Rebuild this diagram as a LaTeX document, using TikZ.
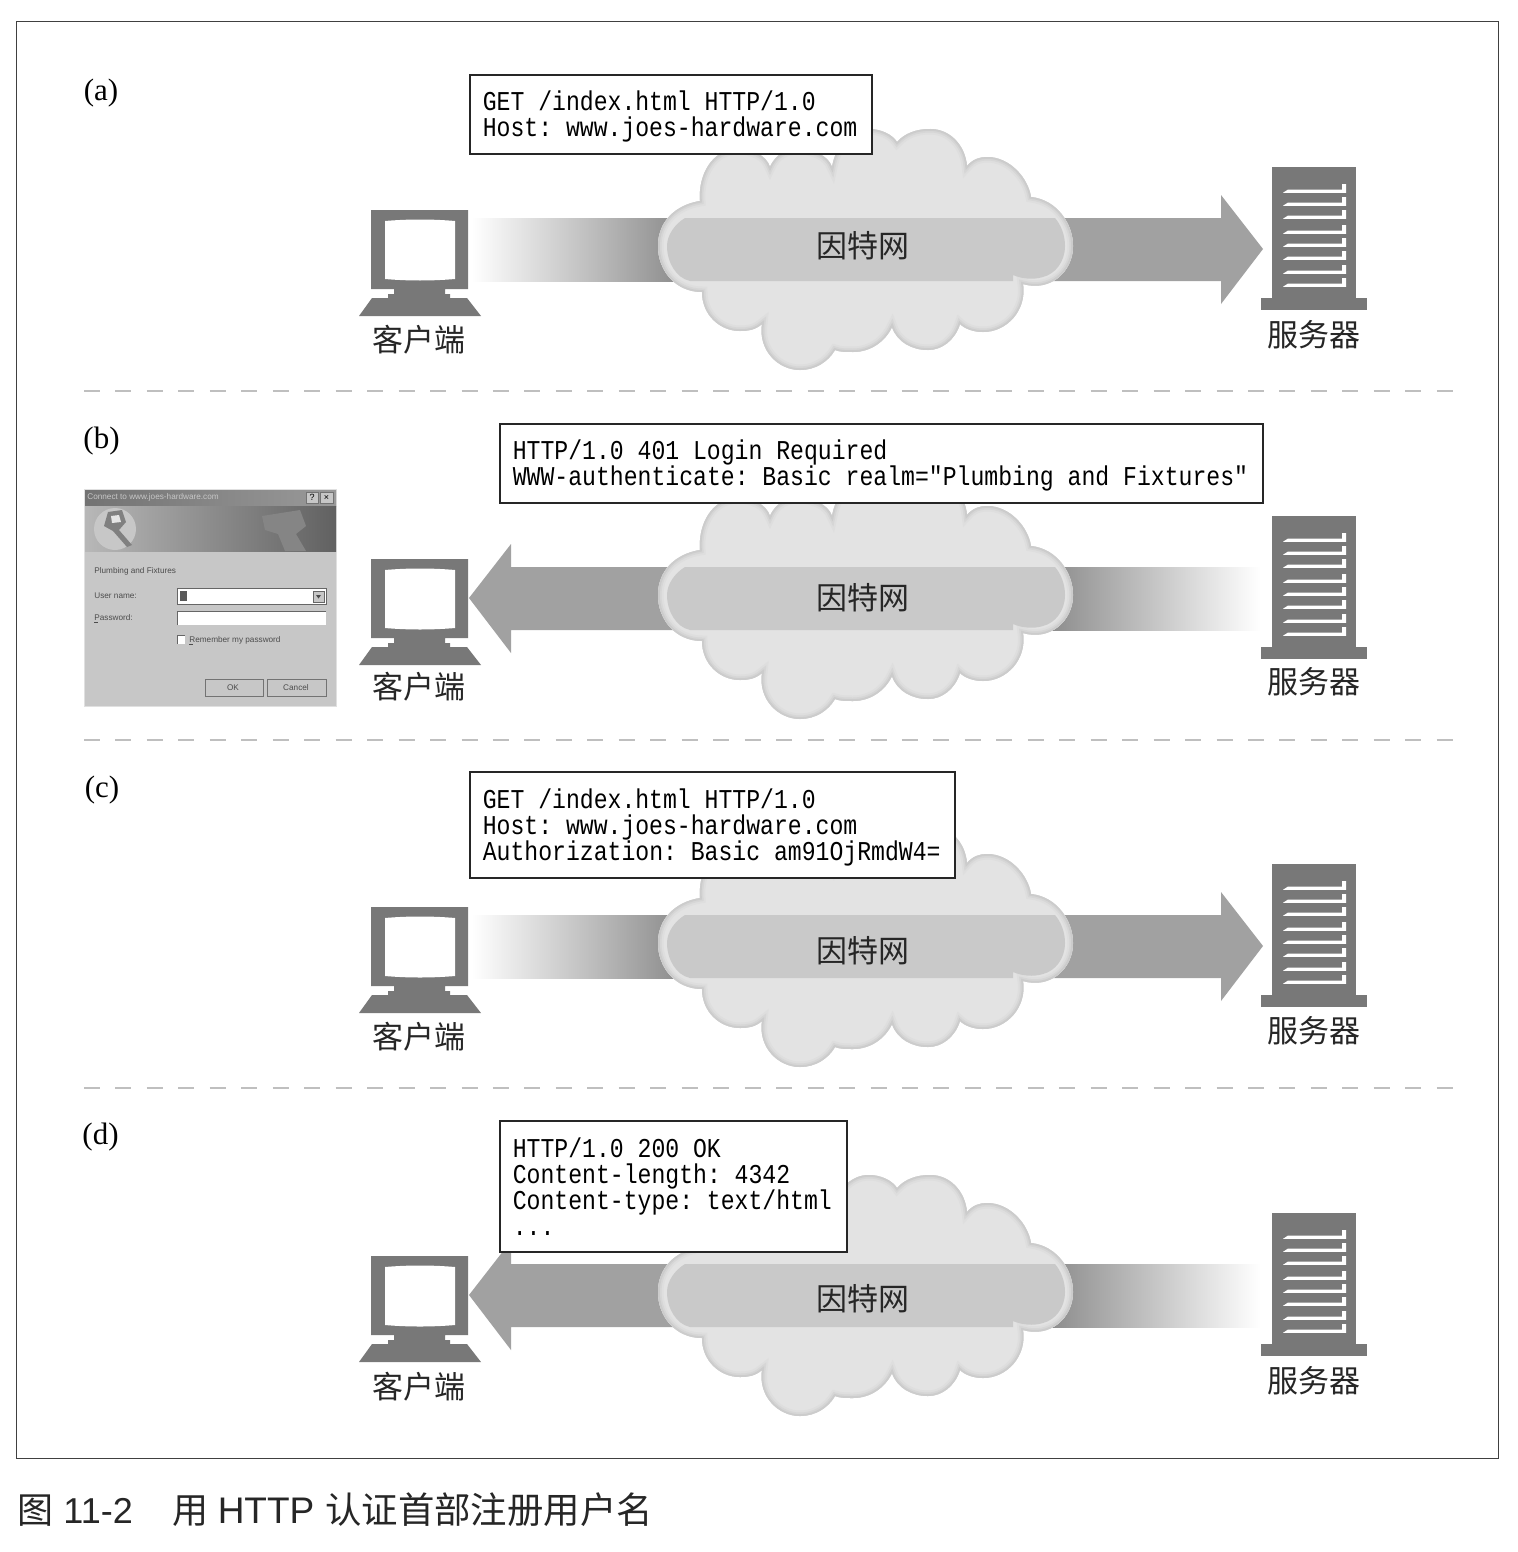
\documentclass[tikz,border=0pt]{standalone}
\usepackage{fontspec}
\setmainfont{Liberation Serif}
\newfontfamily\cjk{Noto Sans CJK SC}
\newfontfamily\lat{Liberation Sans}
\newfontfamily\mono[FakeStretch=0.85]{Liberation Mono}
\definecolor{devgray}{gray}{0.47}
\definecolor{arrowgray}{gray}{0.63}
\definecolor{darkfade}{gray}{0.55}
\definecolor{bandgray}{gray}{0.79}
\definecolor{cloudA}{gray}{0.80}
\definecolor{cloudB}{gray}{0.84}
\definecolor{cloudD}{gray}{0.87}
\definecolor{cloudC}{gray}{0.89}
\definecolor{dlggray}{gray}{0.78}
\definecolor{dlgtext}{gray}{0.3}
\newcommand{\fsz}[1]{\fontsize{#1}{#1}\selectfont}
\newcommand{\monoset}{\relax\frenchspacing\spaceskip=6.936pt\relax\leavevmode}
\newcommand{\toproom}{\vrule width 0pt height 12.5pt\relax}
\tikzset{
  x=0.5pt,y=-0.5pt,
  cloudshape/.style={insert path={
    (700,201) .. controls (698,175) and (712,149) .. (738,149)
    .. controls (752,149) and (766,155) .. (770,167)
    .. controls (776,153) and (788,149) .. (798,149)
    .. controls (812,149) and (828,155) .. (832,167)
    .. controls (836,145) and (850,129) .. (869,129)
    .. controls (880,129) and (892,134) .. (897,142)
    .. controls (905,133) and (917,129) .. (930,129)
    .. controls (950,129) and (965,145) .. (967,166)
    .. controls (973,159) and (980,157) .. (987,157)
    .. controls (1010,157) and (1028,178) .. (1031,197)
    .. controls (1058,200) and (1073,225) .. (1073,246)
    .. controls (1073,272) and (1050,292) .. (1023,284)
    .. controls (1027,310) and (1007,332) .. (983,332)
    .. controls (974,332) and (965,329) .. (960,324)
    .. controls (955,340) and (942,350) .. (928,350)
    .. controls (912,350) and (897,342) .. (892,327)
    .. controls (885,342) and (870,352) .. (853,352)
    .. controls (846,352) and (840,352) .. (835,350)
    .. controls (828,362) and (815,370) .. (800,370)
    .. controls (778,370) and (758,350) .. (762,324)
    .. controls (755,330) and (748,331) .. (740,331)
    .. controls (720,331) and (702,315) .. (702,292)
    .. controls (675,292) and (658,270) .. (658,246)
    .. controls (658,222) and (675,205) .. (700,201) -- cycle}},
  devicelabel/.style={font=\cjk\fsz{15.5},text=black!85,inner sep=0pt},
  netlabel/.style={font=\cjk\fsz{15.5},text=black!85,inner sep=0pt},
  panellabel/.style={font=\fsz{15.5},inner sep=0pt},
  msgbox/.style={draw=black!85,line width=0.8pt,fill=white,anchor=north west,
    inner xsep=6.5pt,inner ysep=0pt,align=left,
    font=\mono\fontsize{13.6}{13}\selectfont},
  divider/.style={draw=black!25,line width=1pt,dash pattern=on 8pt off 7.73pt},
  dlgsmall/.style={font=\lat\fsz{4.1},text=dlgtext,inner sep=0pt,anchor=west},
  dlgbtn/.style={fill=dlggray,draw=black!55,line width=0.3pt},
}
% #1 offset  #2 id  #3 client label y  #4 server label y
\newcommand{\devices}[4]{%
  \begin{scope}[shift={(0,#1)}]
    \fill[devgray] (371,210) -- (468,210) -- (468,289) -- (445,289) -- (445,294) -- (450,294) -- (450,298)
      -- (467,298) -- (481,316) -- (359,316) -- (372,298) -- (388,298) -- (388,294) -- (394,294) -- (394,289) -- (371,289) -- cycle;
    \fill[white] (385,221) .. controls (408,219) and (432,219) .. (455,221) -- (455,279)
      .. controls (432,281) and (408,281) .. (385,279) -- cycle;
    \fill[devgray] (1272,167) rectangle (1356,298);
    \fill[devgray] (1261,298) rectangle (1367,310);
    \foreach \ly in {191,204,217,232,245,258,272,285}{
      \fill[white] (1283,\ly+1.8) -- (1288,\ly-1.5) -- (1342,\ly-1.5) -- (1342,\ly-7) -- (1346,\ly-7) -- (1346,\ly+1.8) -- cycle;
    }
    \node[devicelabel] (client#2) at (419,#3) {客户端};
    \node[devicelabel] (server#2) at (1314,#4) {服务器};
  \end{scope}}
\newcommand{\netcloud}[3]{%
  \begin{scope}[shift={(0,#1)}]
    \fill[cloudC,cloudshape];
    \begin{scope}
      \clip[cloudshape];
      \draw[cloudD,line width=5.5pt,cloudshape];
      \draw[cloudB,line width=3.5pt,cloudshape];
      \draw[cloudA,line width=1.8pt,cloudshape];
    \end{scope}
    \fill[bandgray] (685,218) -- (1055,218) .. controls (1061,225) and (1065,235) .. (1065,246)
      .. controls (1065,262) and (1055,274) .. (1043,277) .. controls (1033,280) and (1022,279) .. (1013,275)
      -- (1013,281) -- (690,281) .. controls (676,278) and (667,262) .. (667,246)
      .. controls (667,235) and (675,224) .. (685,218) -- cycle;
    \node[netlabel] (net#2) at (863,#3) {因特网};
  \end{scope}}
\newcommand{\arrowright}[1]{%
  \begin{scope}[shift={(0,#1)}]
    \shade[left color=white,right color=darkfade] (472,218) rectangle (680,281);
    \fill[arrowgray] (1050,218) -- (1221,218) -- (1221,195) -- (1263,249) -- (1221,304) -- (1221,281) -- (1050,281) -- cycle;
  \end{scope}}
\newcommand{\arrowleft}[1]{%
  \begin{scope}[shift={(0,#1)}]
    \shade[left color=darkfade,right color=white] (1050,218) rectangle (1260,281);
    \fill[arrowgray] (680,218) -- (511,218) -- (511,195) -- (469,249) -- (511,304) -- (511,281) -- (680,281) -- cycle;
  \end{scope}}
\begin{document}
\begin{tikzpicture}
\useasboundingbox (0,0) rectangle (1518,1552);
\fill[white] (0,0) rectangle (1518,1552);
\draw[black!75,line width=0.5pt] (16,22) rectangle (1498,1458);
\coordinate (d1a) at (84,391); \coordinate (d1b) at (1453,391);
\coordinate (d2a) at (84,740); \coordinate (d2b) at (1453,740);
\coordinate (d3a) at (84,1088); \coordinate (d3b) at (1453,1088);
\draw[divider] (d1a) -- (d1b);
\draw[divider] (d2a) -- (d2b);
\draw[divider] (d3a) -- (d3b);
\node[panellabel] (la) at (101,93) {(a)};
\node[panellabel] (lb) at (101.5,441) {(b)};
\node[panellabel] (lc) at (102,790) {(c)};
\node[panellabel] (ld) at (100.5,1137) {(d)};
\devices{0}{a}{340}{335}
\arrowright{0}
\netcloud{0}{a}{246}
\devices{349}{b}{338}{333}
\arrowleft{349}
\netcloud{349}{b}{249}
\devices{697}{c}{340}{334}
\arrowright{697}
\netcloud{697}{c}{254}
\devices{1046}{d}{341}{335}
\arrowleft{1046}
\netcloud{1046}{d}{253}
\node[msgbox,text width=188pt,minimum height=39.5pt] (boxa) at (469,74)
  {\monoset\toproom GET /index.html HTTP/1.0\\Host: www.joes-hardware.com};
\node[msgbox,text width=368.5pt,minimum height=39.5pt] (boxb) at (499,423)
  {\monoset\toproom HTTP/1.0 401 Login Required\\WWW-authenticate: Basic realm="Plumbing and Fixtures"};
\node[msgbox,text width=229.5pt,minimum height=53pt] (boxc) at (469,771)
  {\monoset\toproom GET /index.html HTTP/1.0\\Host: www.joes-hardware.com\\Authorization: Basic am91OjRmdW4=};
\node[msgbox,text width=160.5pt,minimum height=65.5pt] (boxd) at (499,1120)
  {\monoset HTTP/1.0 200 OK\\Content-length: 4342\\Content-type: text/html\\...};
% dialog
\fill[black!12] (84,489) rectangle (337,707);
\fill[dlggray] (85,490) rectangle (336,706);
\shade[left color=black!55,right color=black!40] (85,490) rectangle (336,506);
\shade[left color=black!28,right color=black!62] (85,506) rectangle (336,551);
\fill[black!22] (115,529) circle (21);
\fill[black!50] (108,512) -- (122,510) -- (126,522) -- (119,530) -- (132,545) -- (127,547) -- (113,531) -- (104,526) -- cycle;
\fill[black!10] (111,516) -- (119,515) -- (121,522) -- (112,523) -- cycle;
\fill[black!48] (262,516) -- (300,510) -- (306,526) -- (296,534) -- (306,551) -- (285,551) -- (278,534) -- (265,530) -- cycle;
\node[font=\lat\fsz{4.1},text=black!22,inner sep=0pt,anchor=west] (dtitle) at (87,497) {Connect to www.joes-hardware.com};
\draw[dlgbtn] (306,492) rectangle (318,503);
\draw[dlgbtn] (320,492) rectangle (333,503);
\node[font=\lat\fsz{4.5},text=black,inner sep=0pt] (dq) at (312,497.5) {?};
\node[font=\lat\fsz{4.5},text=black,inner sep=0pt] (dx) at (326.5,497.5) {×};
\node[dlgsmall] (dplumb) at (94,571) {Plumbing and Fixtures};
\node[dlgsmall] (duser) at (94,596) {User name:};
\node[dlgsmall] (dpass) at (94,618) {Password:};
\draw[black!70,line width=0.25pt] (94,622) -- (98,622);
\fill[white,draw=black!60,line width=0.4pt] (177,588) rectangle (326,604);
\fill[black!65] (180,591) rectangle (187,601);
\fill[dlggray,draw=black!60,line width=0.2pt] (313,591) rectangle (324,602);
\fill[black!70] (316,595) -- (321,595) -- (318.5,598.5) -- cycle;
\fill[white] (177,611) rectangle (326,625);
\draw[black!60,line width=0.4pt] (177,625) -- (177,611) -- (326,611);
\fill[white] (177,635) rectangle (185,644);
\draw[black!60,line width=0.4pt] (177,644) -- (177,635) -- (185,635);
\node[dlgsmall] (drem) at (189,640) {Remember my password};
\draw[black!70,line width=0.25pt] (189,644) -- (193,644);
\fill[dlggray,draw=black!55,line width=0.3pt] (205,679) rectangle (263,696);
\fill[dlggray,draw=black!55,line width=0.3pt] (267,679) rectangle (326,696);
\node[font=\lat\fsz{4.1},text=dlgtext,inner sep=0pt] (dok) at (233,688) {OK};
\node[font=\lat\fsz{4.1},text=dlgtext,inner sep=0pt] (dcancel) at (296,688) {Cancel};
% caption
\node[anchor=west,inner sep=0pt,text=black!85] (caption) at (17,1510)
  {\cjk\fsz{18}图\hspace{5pt}\lat\fsz{18}11-2\hspace{20pt}\cjk\fsz{18}用\hspace{4.5pt}\lat\fsz{18.5}HTTP\hspace{5.5pt}\cjk\fsz{18.2}认证首部注册用户名};
\end{tikzpicture}
\end{document}
